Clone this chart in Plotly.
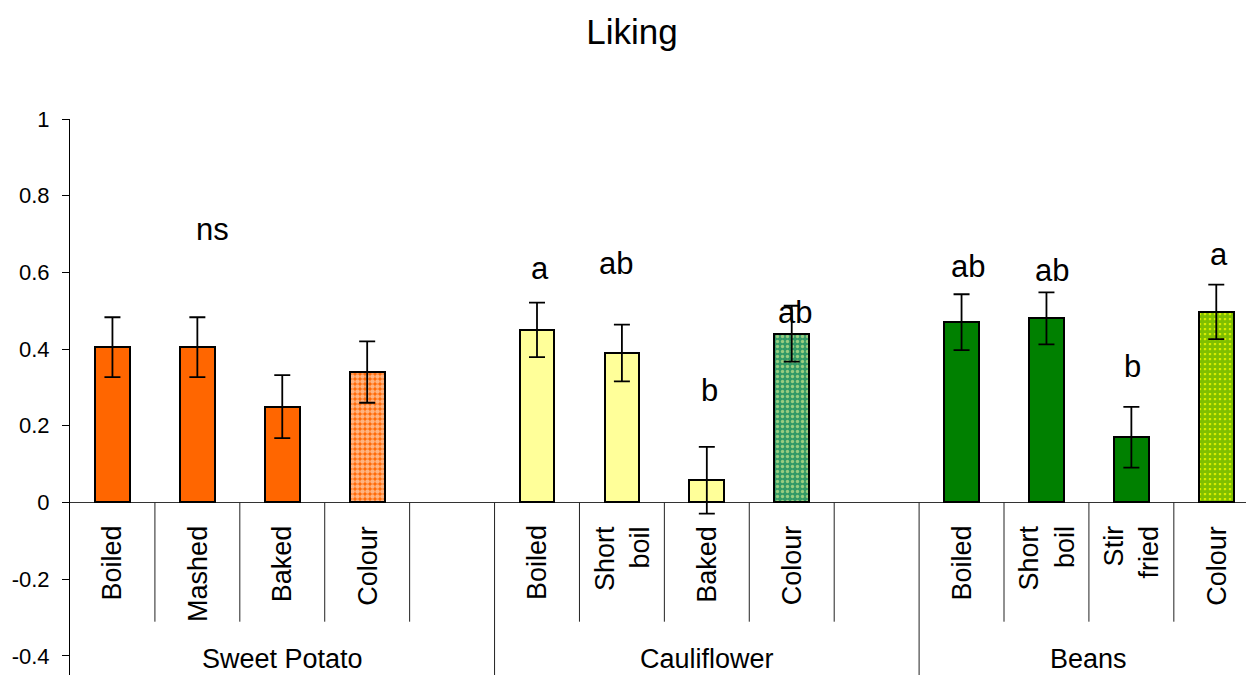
import plotly.graph_objects as go

# ---- data -------------------------------------------------------------
groups = ["Sweet Potato", "Cauliflower", "Beans"]

sp_methods = ["Boiled", "Mashed", "Baked", "Colour"]
sp_means = [0.405, 0.405, 0.25, 0.34]
sp_errors = [0.078, 0.078, 0.082, 0.080]

cf_methods = ["Boiled", "Short<br>boil", "Baked", "Colour"]
cf_means = [0.45, 0.39, 0.058, 0.44]
cf_errors = [0.071, 0.074, 0.087, 0.073]
cf_letters = ["a", "ab", "b", "ab"]

bn_methods = ["Boiled", "Short<br>boil", "Stir<br>fried", "Colour"]
bn_means = [0.47, 0.48, 0.17, 0.497]
bn_errors = [0.073, 0.068, 0.079, 0.071]
bn_letters = ["ab", "ab", "b", "a"]

sp_note = "ns"

y_ticks = [-0.4, -0.2, 0, 0.2, 0.4, 0.6, 0.8, 1]
y_tick_labels = ["-0.4", "-0.2", "0", "0.2", "0.4", "0.6", "0.8", "1"]

# ---- styling ----------------------------------------------------------
FONT = "Liberation Sans, Arial, sans-serif"
ORANGE = "#FF6600"
PALE_YELLOW = "#FFFF99"
GREEN = "#008000"
SEA_GREEN = "#339966"
YELLOW = "#FFFF00"

SLOTS = 5              # four bars + one empty slot per group
BAR_W = 0.41
X_MAX = 13.35

fig = go.Figure()


def add_bars(xs, ys, errs, color, pattern=None):
    marker = dict(color=color, line=dict(color="black", width=2))
    if pattern:
        marker["pattern"] = pattern
    fig.add_trace(go.Bar(
        x=xs, y=ys, width=BAR_W, marker=marker,
        error_y=dict(type="data", array=errs, visible=True,
                     color="black", thickness=1.8, width=8),
        showlegend=False, hoverinfo="x+y",
    ))


# dotted fills for the "Colour" samples
group_data = [
    (sp_methods, sp_means, sp_errors, ORANGE,
     dict(shape=".", fgcolor="white", bgcolor=ORANGE, size=5, solidity=0.65)),
    (cf_methods, cf_means, cf_errors, PALE_YELLOW,
     dict(shape=".", fgcolor=PALE_YELLOW, bgcolor=SEA_GREEN, size=5, solidity=0.35)),
    (bn_methods, bn_means, bn_errors, GREEN,
     dict(shape=".", fgcolor=GREEN, bgcolor=YELLOW, size=5, solidity=0.8)),
]

for g, (methods, means, errs, color, colour_pattern) in enumerate(group_data):
    xs = [g * SLOTS + i for i in range(len(means))]
    # plain cooked samples
    add_bars(xs[:3], means[:3], errs[:3], color)
    # "Colour" sample
    add_bars(xs[3:], means[3:], errs[3:], colour_pattern["bgcolor"], colour_pattern)

annotations = []
shapes = []

# method labels hanging under the zero line
for g, methods in enumerate([sp_methods, cf_methods, bn_methods]):
    for i, name in enumerate(methods):
        annotations.append(dict(
            x=g * SLOTS + i, y=-0.055, xref="x", yref="y",
            text=name, textangle=-90, showarrow=False,
            xanchor="center", yanchor="top", align="right",
            font=dict(family=FONT, size=27, color="black"),
        ))

# group labels along the bottom edge
group_centres = [2, 7, 11.5]
for name, xc in zip(groups, group_centres):
    annotations.append(dict(
        x=xc, y=0, xref="x", yref="paper", text=name, showarrow=False,
        xanchor="center", yanchor="bottom", borderpad=0,
        font=dict(family=FONT, size=27, color="black"),
    ))

# significance letters
letter_pos = [
    (sp_note, 1.18, 0.713),
    (cf_letters[0], 5.04, 0.611), (cf_letters[1], 5.93, 0.624),
    (cf_letters[2], 7.03, 0.291), (cf_letters[3], 8.04, 0.495),
    (bn_letters[0], 10.08, 0.615), (bn_letters[1], 11.07, 0.604),
    (bn_letters[2], 12.01, 0.354), (bn_letters[3], 13.03, 0.647),
]
for txt, xp, yp in letter_pos:
    annotations.append(dict(
        x=xp, y=yp, xref="x", yref="y", text=txt, showarrow=False,
        xanchor="center", yanchor="middle",
        font=dict(family=FONT, size=31, color="black"),
    ))

# category dividers below the zero line
for g in range(len(groups)):
    for i in range(4):
        xb = g * SLOTS + i + 0.5
        shapes.append(dict(type="line", xref="x", yref="y",
                           x0=xb, x1=xb, y0=0, y1=-0.311,
                           line=dict(color="#222", width=1)))
for xb in [4.5, 9.5]:
    shapes.append(dict(type="line", xref="x", yref="y",
                       x0=xb, x1=xb, y0=0, y1=-0.45,
                       line=dict(color="#222", width=1)))

fig.update_layout(
    width=1246, height=675,
    margin=dict(l=70, r=0, t=119, b=0),
    paper_bgcolor="white", plot_bgcolor="white",
    title=dict(text="Liking", x=632 / 1246, xref="container", xanchor="center",
               y=1 - 32 / 675, yref="container", yanchor="middle",
               font=dict(family=FONT, size=35, color="black")),
    xaxis=dict(range=[-0.5, X_MAX], showticklabels=False, showgrid=False,
               zeroline=False, showline=False, ticks=""),
    yaxis=dict(range=[-0.45, 1.0], tickvals=y_ticks, ticktext=y_tick_labels,
               showgrid=False, showline=True, linecolor="black", linewidth=1,
               ticks="outside", ticklen=7, tickcolor="black",
               zeroline=True, zerolinecolor="#333", zerolinewidth=1,
               ticklabelstandoff=8,
               tickfont=dict(family=FONT, size=22, color="black")),
    bargap=0, annotations=annotations, shapes=shapes,
    font=dict(family=FONT),
)

fig.write_html("out.html")
